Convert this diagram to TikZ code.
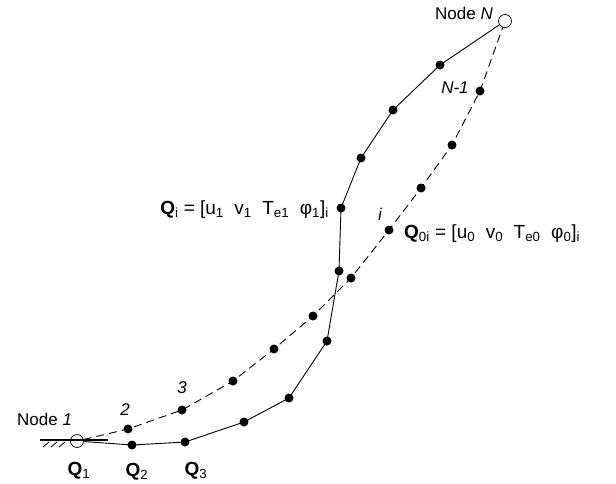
\documentclass[tikz,border=0pt]{standalone}
\usepackage{fontspec}
\setmainfont{Liberation Sans}
\usetikzlibrary{positioning}
\tikzset{
  dot/.style={circle, fill=black, inner sep=0pt, minimum size=9pt},
  endpt/.style={circle, draw, inner sep=0pt, minimum size=13pt, line width=0.7pt},
  curve/.style={line width=0.9pt},
  guess/.style={line width=0.9pt, dash pattern=on 8pt off 5pt},
  lbl/.style={font=\fontsize{17}{20}\selectfont, inner sep=0pt},
  ilbl/.style={lbl, font=\fontsize{17}{20}\selectfont\itshape},
  eqn/.style={font=\fontsize{19}{22}\selectfont, inner sep=0pt},
}

\begin{document}
\begin{tikzpicture}[x=1pt, y=-1pt]
  \useasboundingbox (0,0) rectangle (616,483);
  \draw[line width=2.5pt] (40,440) -- (108,440);
  \foreach \x in {43,51,59}
    \draw[line width=0.8pt] (\x,447) -- (\x+6,442);

  \node[endpt] (first) at (77,441) {};
  \node[endpt] (last) at (505,21) {};

  \node[dot] (q2) at (132,445) {};
  \node[dot] (q3) at (185,442) {};
  \node[dot] (q4) at (244,422) {};
  \node[dot] (q5) at (289,398) {};
  \node[dot] (q6) at (327,341) {};
  \node[dot] (q7) at (339,271) {};
  \node[dot] (qi) at (341,208) {};
  \node[dot] (q9) at (361,158) {};
  \node[dot] (q10) at (393,110) {};
  \node[dot] (q11) at (440,65) {};

  \node[dot] (p2) at (128,429) {};
  \node[dot] (p3) at (182,410) {};
  \node[dot] (p4) at (233,381) {};
  \node[dot] (p5) at (274,349) {};
  \node[dot] (p6) at (313,316) {};
  \node[dot] (p7) at (351,278) {};
  \node[dot] (pi) at (389,230) {};
  \node[dot] (p9) at (421,188) {};
  \node[dot] (p10) at (452,145) {};
  \node[dot] (p11) at (480,91) {};

  \draw[curve] (first) -- (q2.center) -- (q3.center) -- (q4.center) -- (q5.center)
    -- (q6.center) -- (q7.center) -- (qi.center) -- (q9.center) -- (q10.center)
    -- (q11.center) -- (last);
  \draw[guess] (first) -- (p2.center) -- (p3.center) -- (p4.center) -- (p5.center)
    -- (p6.center) -- (p7.center) -- (pi.center) -- (p9.center) -- (p10.center)
    -- (p11.center) -- (last);

  \node[lbl, anchor=base west] (firstlbl) at (17,425) {Node \textit{1}};
  \node[lbl, anchor=base east] (lastlbl) at (493,19) {Node \textit{N}};
  \node[ilbl] (lbl2) at (125,410) {2};
  \node[ilbl] (lbl3) at (182,388) {3};
  \node[ilbl] (lbli) at (380,214) {i};
  \node[ilbl] (lbln) at (455,88) {N-1};
  \node[eqn, anchor=base east] (qilbl) at (329,214)
    {\textbf{Q}\textsubscript{i} = [u\textsubscript{1}\ \ v\textsubscript{1}\ \ T\textsubscript{e1}\ \ φ\textsubscript{1}]\textsubscript{i}};
  \node[eqn, anchor=base west] (pilbl) at (404,238)
    {\textbf{Q}\textsubscript{0i} = [u\textsubscript{0}\ \ v\textsubscript{0}\ \ T\textsubscript{e0}\ \ φ\textsubscript{0}]\textsubscript{i}};
  \node[eqn, anchor=base] (q1lbl) at (79,475) {\textbf{Q}\textsubscript{1}};
  \node[eqn, anchor=base] (q2lbl) at (137,476) {\textbf{Q}\textsubscript{2}};
  \node[eqn, anchor=base] (q3lbl) at (196,475) {\textbf{Q}\textsubscript{3}};
\end{tikzpicture}
\end{document}
